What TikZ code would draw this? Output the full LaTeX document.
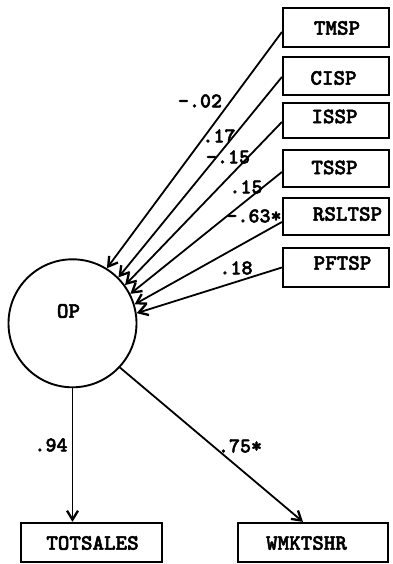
\documentclass[tikz,border=0pt]{standalone}
\usepackage{fontspec}
\newfontfamily\typewriter[FakeBold=2.2]{lmmonolt10-bold.otf}
\usetikzlibrary{arrows.meta}

\tikzset{
  varbox/.style={draw, line width=2.2pt, rectangle, inner sep=0pt},
  vartext/.style={font=\typewriter\fontsize{22}{22}\selectfont, inner sep=0pt, anchor=center},
  coef/.style={font=\typewriter\fontsize{21}{21}\selectfont, inner sep=0pt, anchor=center},
  latent/.style={draw, circle, line width=1.9pt, minimum size=128pt, inner sep=0pt},
  path/.style={line width=1.8pt, -{Straight Barb[length=9pt,width=11pt,line width=2.3pt]}},
}

\begin{document}
\begin{tikzpicture}[x=1pt, y=-1pt]
\useasboundingbox (0,0) rectangle (392,564);

% latent construct
\node[latent] (op) at (72.5,323.3) {};
\node[vartext] at (68.5,311) {OP};

% strategy indicators (right column)
\node[varbox, minimum width=106pt, minimum height=39pt] (tmsp)   at (336,27.5)  {};
\node[varbox, minimum width=106pt, minimum height=38pt] (cisp)   at (336,76)    {};
\node[varbox, minimum width=106pt, minimum height=35pt] (issp)   at (336,120.5) {};
\node[varbox, minimum width=106pt, minimum height=37pt] (tssp)   at (336,168.5) {};
\node[varbox, minimum width=106pt, minimum height=37pt] (rsltsp) at (336,216.5) {};
\node[varbox, minimum width=106pt, minimum height=39pt] (pftsp)  at (336,267.5) {};

\node[vartext] at (337,28)    {TMSP};
\node[vartext] at (333.5,78)  {CISP};
\node[vartext] at (334.5,116.5) {ISSP};
\node[vartext] at (334.5,167.5) {TSSP};
\node[vartext] at (347.5,214) {RSLTSP};
\node[vartext] at (342.5,263) {PFTSP};

% performance indicators (bottom row)
\node[varbox, minimum width=141pt, minimum height=39pt] (tot) at (91.5,542.5) {};
\node[varbox, minimum width=150pt, minimum height=39pt] (wmk) at (313,542.5) {};
\node[vartext] at (92.5,543)  {TOTSALES};
\node[vartext] at (306.5,543) {WMKTSHR};

% paths into OP
\draw[path] ([yshift=-4.5pt]tmsp.west)   -- (op.58.7);
\draw[path] ([yshift=-1pt]cisp.west)     -- (op.45.5);
\draw[path] ([yshift=-1.5pt]issp.west)   -- (op.36.5);
\draw[path] ([yshift=-3.5pt]tssp.west)   -- (op.27);
\draw[path] ([yshift=-5.5pt]rsltsp.west) -- (op.17.5);
\draw[path] (pftsp.west)                 -- (op.9.8);

% paths out of OP
\draw[path] (op.south) -- (op.south |- tot.north);
\draw[path] (op.-43.8) -- ([xshift=-10pt]wmk.north);

% path coefficients
\node[coef] at (200,101) {-.02};
\node[coef] at (219,136) {.17};
\node[coef] at (228,157) {-.15};
\node[coef] at (246,187) {.15};
\node[coef] at (254,216) {-.63*};
\node[coef] at (236,268) {.18};
\node[coef] at (51,445)  {.94};
\node[coef] at (240,446) {.75*};
\end{tikzpicture}
\end{document}
